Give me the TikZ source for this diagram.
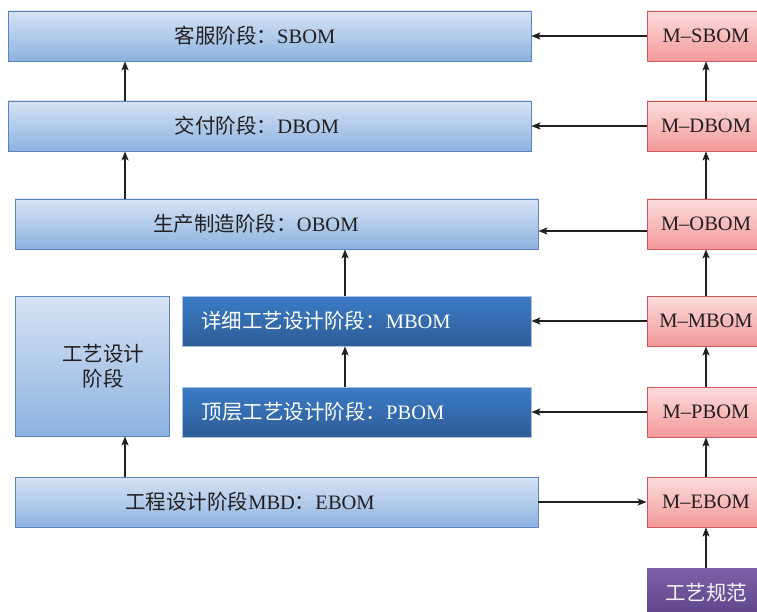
\documentclass[tikz,border=0pt]{standalone}
\usepackage{fontspec}
\setmainfont{Liberation Serif}
\newfontfamily\cjk{Noto Sans CJK SC}
\usetikzlibrary{arrows.meta}
\newcommand\zh[1]{{\cjk #1}}
\definecolor{lbT}{HTML}{D7E3F4}
\definecolor{lbB}{HTML}{8CB2E0}
\definecolor{lbD}{HTML}{5A84BE}
\definecolor{dbT}{HTML}{3B7CC6}
\definecolor{dbB}{HTML}{2E5C96}
\definecolor{dbD}{HTML}{A9C2E2}
\definecolor{pkT}{HTML}{FCDCDC}
\definecolor{pkB}{HTML}{F4999A}
\definecolor{pkD}{HTML}{CC5A5C}
\definecolor{puT}{HTML}{7D60A9}
\definecolor{puB}{HTML}{5E4386}
\definecolor{txt}{HTML}{231F20}
\tikzset{
  fnt/.style={font=\fontsize{20.5}{25}\selectfont},
  lb/.style={draw=lbD, top color=lbT, bottom color=lbB, line width=0.8pt, inner sep=0pt},
  db/.style={draw=dbD, top color=dbT, bottom color=dbB, line width=0.8pt, inner sep=0pt},
  pk/.style={draw=pkD, top color=pkT, bottom color=pkB, line width=0.8pt, inner sep=0pt, fnt, text=txt},
  pu/.style={draw=none, top color=puT, bottom color=puB, inner sep=0pt, fnt, text=white!92!puT},
  dk/.style={fnt, text=txt, inner sep=0pt},
  wt/.style={fnt, text=white, inner sep=0pt},
  wide/.style={minimum width=523pt, minimum height=50pt},
  rbox/.style={minimum width=118pt, minimum height=50pt},
  arr/.style={line width=1.5pt, draw=txt, -{Stealth[length=9pt,width=7pt,inset=2pt]}}
}
\begin{document}
\begin{tikzpicture}[x=1pt,y=-1pt]
\useasboundingbox (0,0) rectangle (757,612);
\clip (0,0) rectangle (757,612);
% left column
\node[lb, wide, label={[dk, xshift=-14.5pt]center:{\zh{客服阶段：}SBOM}}] (sbom) at (269.5,36) {};
\node[lb, wide, label={[dk, xshift=-12.5pt]center:{\zh{交付阶段：}DBOM}}] (dbom) at (269.5,126) {};
\node[lb, wide, label={[dk, xshift=-20.5pt]center:{\zh{生产制造阶段：}OBOM}}] (obom) at (276.5,224) {};
\node[lb, minimum width=154pt, minimum height=140pt,
      label={[dk, xshift=11pt, align=center]center:{\zh{工艺设计}\\\zh{阶段}}}] (gy) at (92,366) {};
\node[db, minimum width=349pt, minimum height=50pt,
      label={[wt, xshift=-30.5pt]center:{\zh{详细工艺设计阶段：}MBOM}}] (mbom) at (356.5,321) {};
\node[db, minimum width=349pt, minimum height=50pt,
      label={[wt, xshift=-33.5pt]center:{\zh{顶层工艺设计阶段：}PBOM}}] (pbom) at (356.5,412) {};
\node[lb, wide, label={[dk, xshift=-26.5pt]center:{\zh{工程设计阶段}MBD\zh{：}EBOM}}] (ebom) at (276.5,502) {};
% right column
\node[pk, rbox] (msbom) at (706,36) {M–SBOM};
\node[pk, rbox] (mdbom) at (706,126) {M–DBOM};
\node[pk, rbox] (mobom) at (706,224) {M–OBOM};
\node[pk, rbox] (mmbom) at (706,321) {M–MBOM};
\node[pk, rbox] (mpbom) at (706,412) {M–PBOM};
\node[pk, rbox] (mebom) at (706,502) {M–EBOM};
\node[pu, rbox, minimum height=50pt] (gf) at (706,593) {\zh{工艺规范}};
% helper coordinates
\coordinate (xa) at (125,0);
\coordinate (xb) at (345,0);
\coordinate (yo) at (0,231);
% vertical arrows, left
\draw[arr] (xa |- dbom.north) -- (xa |- sbom.south);
\draw[arr] (xa |- obom.north) -- (xa |- dbom.south);
\draw[arr] (xb |- mbom.north) -- (xb |- obom.south);
\draw[arr] (xb |- pbom.north) -- (xb |- mbom.south);
\draw[arr] (xa |- ebom.north) -- (xa |- gy.south);
% horizontal arrows
\draw[arr] (msbom.west) -- (sbom.east);
\draw[arr] (mdbom.west) -- (dbom.east);
\draw[arr] (mobom.west |- yo) -- (obom.east |- yo);
\draw[arr] (mmbom.west) -- (mbom.east);
\draw[arr] (mpbom.west) -- (pbom.east);
\draw[arr] (ebom.east) -- (mebom.west);
% right column arrows
\draw[arr] (mdbom.north) -- (msbom.south);
\draw[arr] (mobom.north) -- (mdbom.south);
\draw[arr] (mmbom.north) -- (mobom.south);
\draw[arr] (mpbom.north) -- (mmbom.south);
\draw[arr] (mebom.north) -- (mpbom.south);
\draw[arr] (gf.north) -- (mebom.south);
\end{tikzpicture}
\end{document}
